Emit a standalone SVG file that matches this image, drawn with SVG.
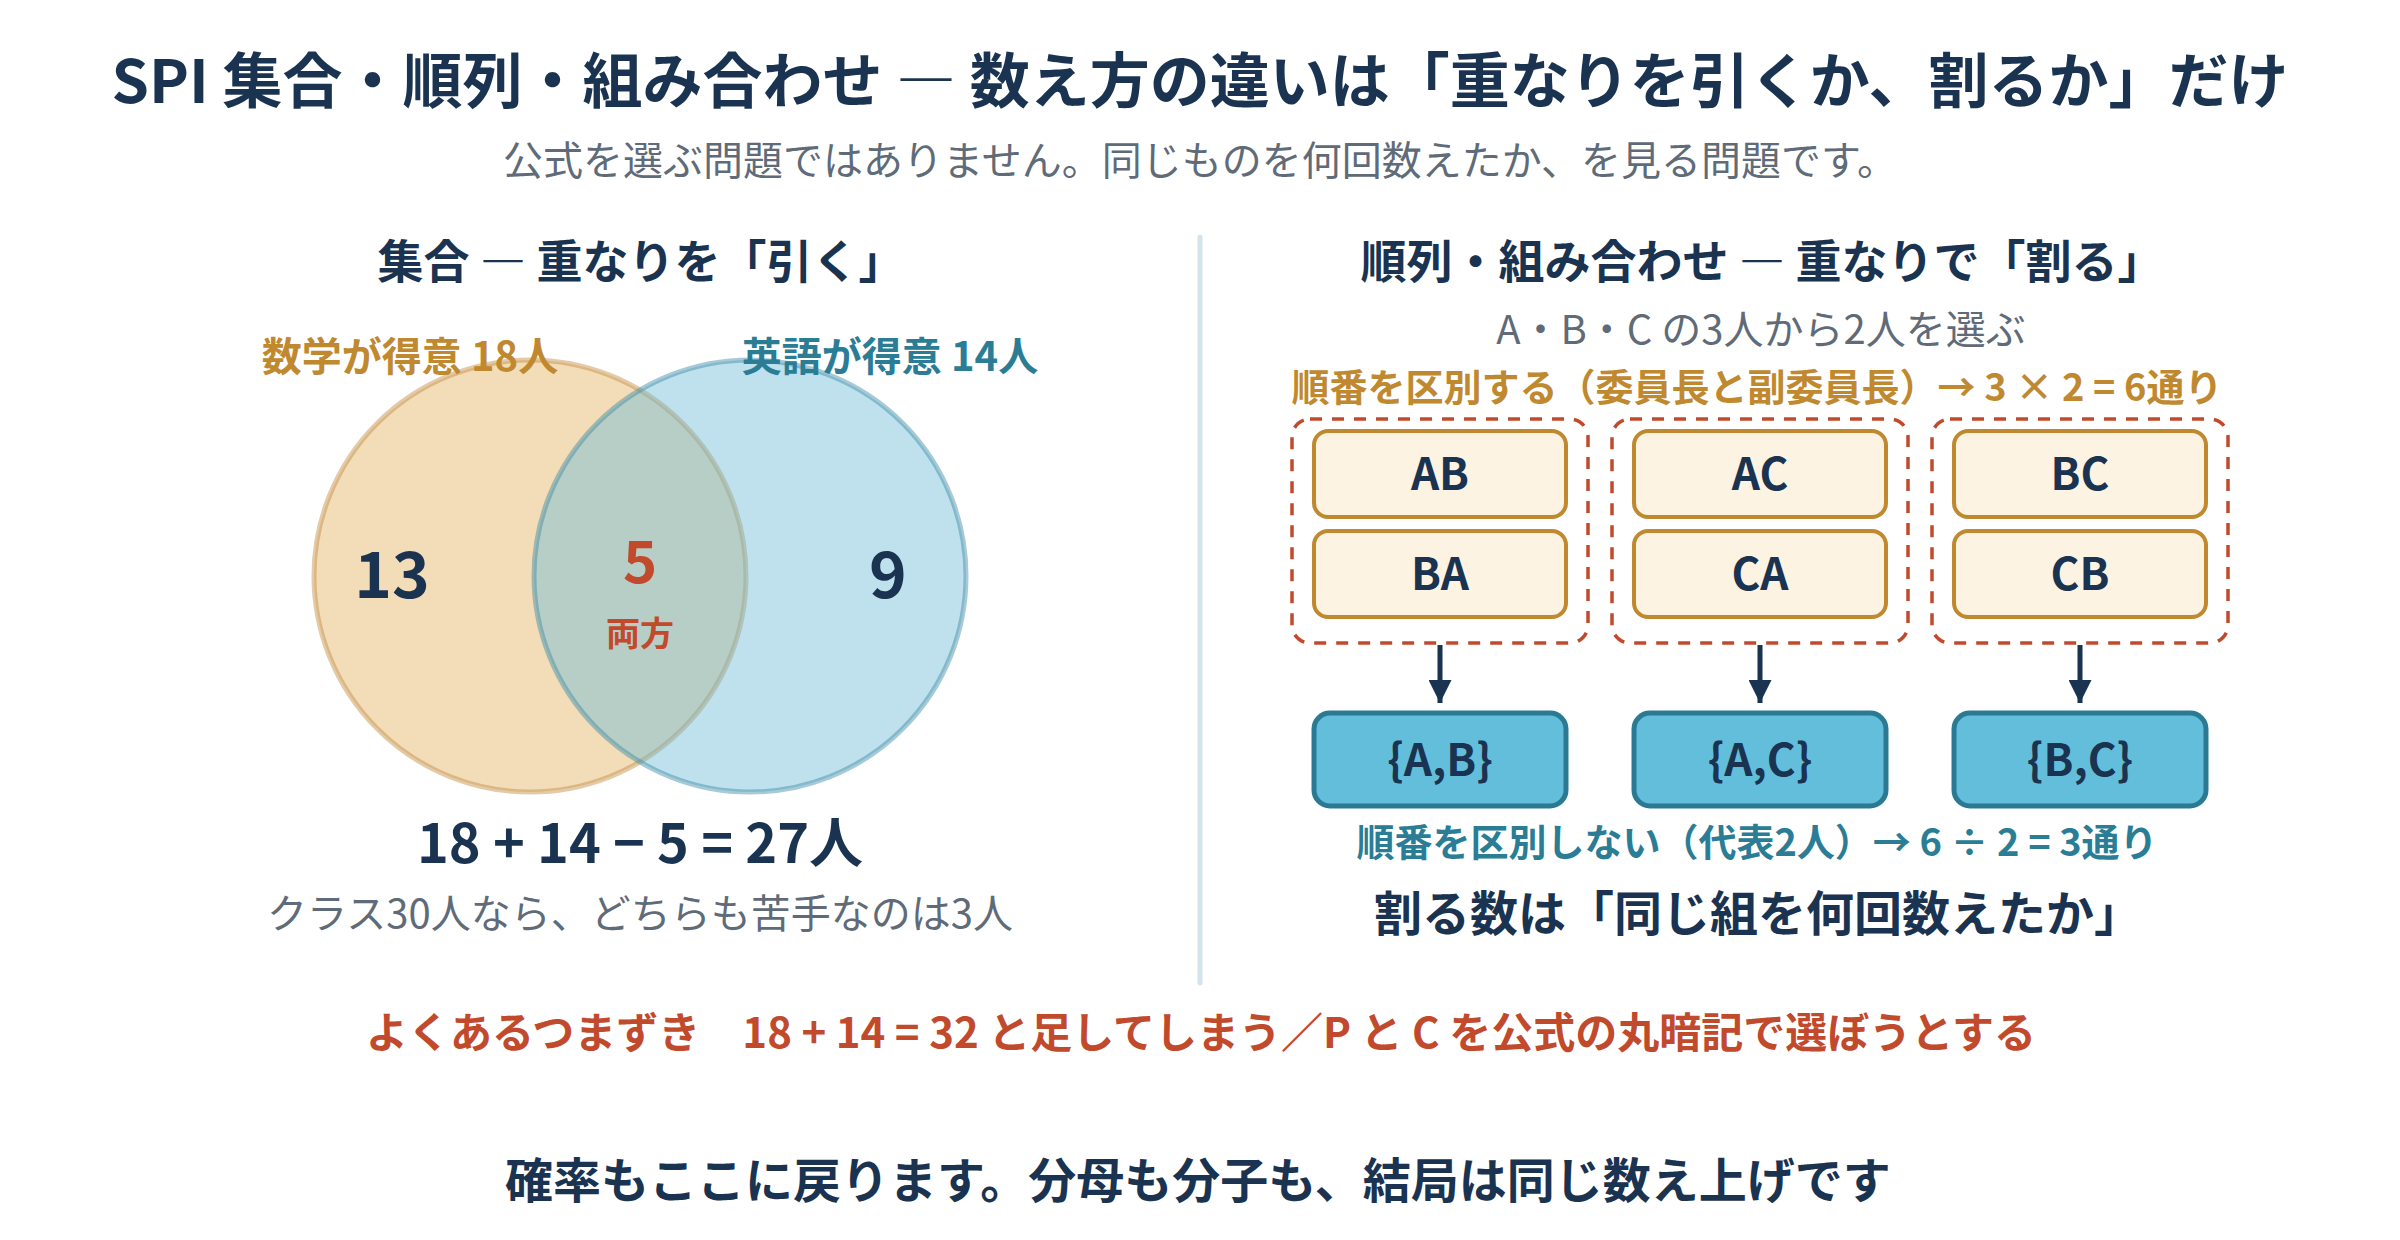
<svg xmlns="http://www.w3.org/2000/svg" width="2400" height="1240" viewBox="0 0 2400 1240">
<defs>
<style>
text{font-family:"Noto Sans CJK JP","Noto Sans",sans-serif;text-anchor:middle}
.b{font-weight:700}
.navy{fill:#1A3350}
.gray{fill:#5F6B78}
.ochre{fill:#C0892F}
.teal{fill:#2A7D95}
.red{fill:#C24A2C}
.grp{fill:none;stroke:#C24A2C;stroke-width:3.5;stroke-dasharray:12 10}
.perm{fill:#FDF3E3;stroke:#C0892F;stroke-width:4}
.comb{fill:#63BEDB;stroke:#2B7A93;stroke-width:5}
.lbl{font-size:44px;font-weight:700;fill:#1A3350}
.conn{stroke:#1A3350;stroke-width:5;fill:none}
</style>
<marker id="ah" viewBox="0 0 10 10" refX="10" refY="5" markerWidth="4.6" markerHeight="4.6" markerUnits="strokeWidth" orient="auto">
<path d="M0,0 L10,5 L0,10 z" fill="#1A3350"/>
</marker>
</defs>
<rect width="2400" height="1240" fill="#FFFFFF"/>

<g id="title">
<text x="1200" y="103" class="b navy" font-size="60">SPI 集合・順列・組み合わせ ― 数え方の違いは「重なりを引くか、割るか」だけ</text>
<text x="1200" y="175" class="gray" font-size="40">公式を選ぶ問題ではありません。同じものを何回数えたか、を見る問題です。</text>
</g>

<line id="divider" x1="1200" y1="237" x2="1200" y2="983" stroke="#D5E3EC" stroke-width="5" stroke-linecap="round"/>

<g id="sets">
<text x="641" y="278" class="b navy" font-size="46">集合 ― 重なりを「引く」</text>
<g id="math-circle">
<circle cx="530" cy="576" r="216" fill="#E5B462" fill-opacity="0.45" stroke="#C08A3E" stroke-opacity="0.45" stroke-width="5"/>
<text x="410" y="371" class="b ochre" font-size="40">数学が得意 18人</text>
</g>
<g id="english-circle">
<circle cx="750" cy="576" r="216" fill="#6FBDD7" fill-opacity="0.45" stroke="#3A8AA5" stroke-opacity="0.45" stroke-width="5"/>
<text x="890" y="371" class="b teal" font-size="40">英語が得意 14人</text>
</g>
<text x="392" y="598" class="b navy" font-size="64">13</text>
<g id="both">
<text x="640" y="583" class="b red" font-size="58">5</text>
<text x="640" y="646" class="b red" font-size="34">両方</text>
</g>
<text x="888" y="598" class="b navy" font-size="64">9</text>
<text x="640" y="863" class="b navy" font-size="54">18 + 14 − 5 = 27人</text>
<text x="640" y="928" class="gray" font-size="40">クラス30人なら、どちらも苦手なのは3人</text>
</g>

<g id="perm-comb">
<text x="1762" y="278" class="b navy" font-size="46">順列・組み合わせ ― 重なりで「割る」</text>
<text x="1761" y="344" class="gray" font-size="40">A・B・C の3人から2人を選ぶ</text>
<text x="1757" y="401" class="b ochre" font-size="38">順番を区別する（委員長と副委員長）→ 3 × 2 = 6通り</text>
</g>

<g id="group-ab">
<rect x="1292" y="419" width="296" height="224" rx="18" class="grp"/>
<g id="perm-AB"><rect x="1314" y="431" width="252" height="86" rx="14" class="perm"/><text x="1440" y="490" class="lbl">AB</text></g>
<g id="perm-BA"><rect x="1314" y="531" width="252" height="86" rx="14" class="perm"/><text x="1440" y="590" class="lbl">BA</text></g>
</g>
<g id="group-ac">
<rect x="1612" y="419" width="296" height="224" rx="18" class="grp"/>
<g id="perm-AC"><rect x="1634" y="431" width="252" height="86" rx="14" class="perm"/><text x="1760" y="490" class="lbl">AC</text></g>
<g id="perm-CA"><rect x="1634" y="531" width="252" height="86" rx="14" class="perm"/><text x="1760" y="590" class="lbl">CA</text></g>
</g>
<g id="group-bc">
<rect x="1932" y="419" width="296" height="224" rx="18" class="grp"/>
<g id="perm-BC"><rect x="1954" y="431" width="252" height="86" rx="14" class="perm"/><text x="2080" y="490" class="lbl">BC</text></g>
<g id="perm-CB"><rect x="1954" y="531" width="252" height="86" rx="14" class="perm"/><text x="2080" y="590" class="lbl">CB</text></g>
</g>

<g id="connectors">
<line x1="1440" y1="645" x2="1440" y2="703" class="conn" marker-end="url(#ah)"/>
<line x1="1760" y1="645" x2="1760" y2="703" class="conn" marker-end="url(#ah)"/>
<line x1="2080" y1="645" x2="2080" y2="703" class="conn" marker-end="url(#ah)"/>
</g>

<g id="comb-AB"><rect x="1314" y="713" width="252" height="93" rx="16" class="comb"/><text x="1440" y="776" class="lbl">{A,B}</text></g>
<g id="comb-AC"><rect x="1634" y="713" width="252" height="93" rx="16" class="comb"/><text x="1760" y="776" class="lbl">{A,C}</text></g>
<g id="comb-BC"><rect x="1954" y="713" width="252" height="93" rx="16" class="comb"/><text x="2080" y="776" class="lbl">{B,C}</text></g>

<g id="comb-notes">
<text x="1757" y="856" class="b teal" font-size="38">順番を区別しない（代表2人）→ 6 ÷ 2 = 3通り</text>
<text x="1758" y="931" class="b navy" font-size="48">割る数は「同じ組を何回数えたか」</text>
</g>

<g id="footer">
<text x="1201" y="1048" class="b red" font-size="42">よくあるつまずき　18 + 14 = 32 と足してしまう／P と C を公式の丸暗記で選ぼうとする</text>
<text x="1198" y="1198" class="b navy" font-size="48">確率もここに戻ります。分母も分子も、結局は同じ数え上げです</text>
</g>
</svg>
